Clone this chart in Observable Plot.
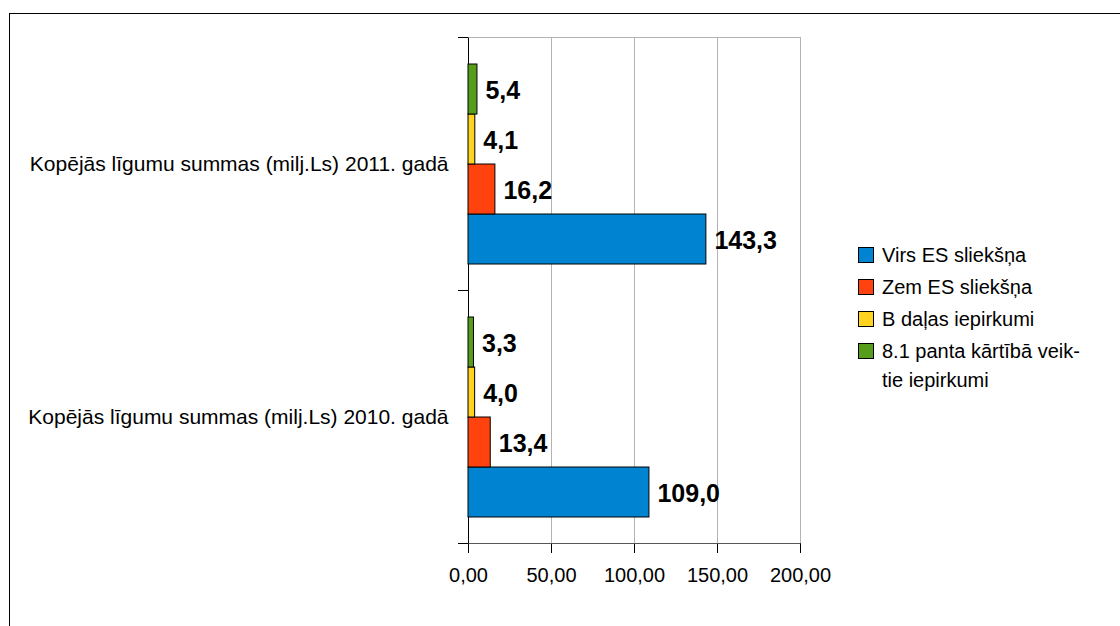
<!DOCTYPE html>
<html>
<head>
<meta charset="utf-8">
<script src="https://cdn.jsdelivr.net/npm/d3@7"></script>
<script src="https://cdn.jsdelivr.net/npm/@observablehq/plot@0.6"></script>
<style>
  body { margin: 0; background: #fff; }
  #wrap { position: relative; width: 1120px; height: 626px; overflow: hidden; font-family: "Liberation Sans", Arial, sans-serif; }
  #frame { position: absolute; left: 9px; top: 13px; width: 1200px; height: 700px; border-left: 1px solid #000; border-top: 1px solid #000; box-sizing: border-box; }
  #chart { position: absolute; left: 0; top: 0; }
  #legend { position: absolute; left: 0; top: 0; width: 1120px; height: 626px; font-size: 20px; color: #000; }
  .item { position: absolute; white-space: pre; line-height: 29px; }
  .sw { position: absolute; width: 14px; height: 14px; border: 1px solid #000; }
</style>
</head>
<body>
<div id="wrap">
  <div id="frame"></div>
  <div id="chart"></div>
  <div id="legend"></div>
</div>
<script>
// ---- data ----
const categories = [
  "Kopējās līgumu summas (milj.Ls) 2011. gadā",
  "Kopējās līgumu summas (milj.Ls) 2010. gadā"
];
const series = [
  "Virs ES sliekšņa",
  "Zem ES sliekšņa",
  "B daļas iepirkumi",
  "8.1 panta kārtībā veiktie iepirkumi"
];
const legendLabels = [
  "Virs ES sliekšņa",
  "Zem ES sliekšņa",
  "B daļas iepirkumi",
  "8.1 panta kārtībā veik-\ntie iepirkumi"
];
const values2011 = [143.3, 16.2, 4.1, 5.4];
const values2010 = [109.0, 13.4, 4.0, 3.3];
const colors = ["#0084d1", "#ff420e", "#ffd320", "#579d1c"];
const xTicks = [0, 50, 100, 150, 200];

const data = [];
series.forEach((s, i) => {
  data.push({category: categories[0], series: s, value: values2011[i]});
  data.push({category: categories[1], series: s, value: values2010[i]});
});

const comma = (v, n) => v.toFixed(n).replace(".", ",");

const chart = Plot.plot({
  width: 1120,
  height: 626,
  marginTop: 37,
  marginBottom: 83,
  marginLeft: 468,
  marginRight: 320,
  style: {fontFamily: "'Liberation Sans', Arial, sans-serif", fontSize: "20px", color: "#000", background: "transparent", overflow: "visible"},
  x: {domain: [0, 200], label: null},
  y: {domain: series.slice().reverse(), paddingInner: 0, paddingOuter: 0.5, axis: null},
  fy: {domain: categories, padding: 0, label: null},
  color: {domain: series, range: colors},
  marks: [
    Plot.gridX(xTicks, {stroke: "#b3b3b3", strokeOpacity: 1}),
    Plot.ruleX([0], {stroke: "#000"}),
    Plot.barX(data, {x: "value", y: "series", fy: "category", fill: "series", stroke: "#000", strokeWidth: 1}),
    Plot.text(data, {x: "value", y: "series", fy: "category", text: d => comma(d.value, 1),
      textAnchor: "start", dx: 8, dy: 1, fontSize: 25, fontWeight: "bold", fill: "#000"}),
    Plot.axisX({ticks: xTicks, tickSize: 10, tickPadding: 14, tickFormat: d => comma(d, 2), label: null, fontSize: 20, stroke: "#000"}),
    Plot.axisFy({anchor: "left", tickSize: 0, tickPadding: 20, label: null, fontSize: 21})
  ]
});

document.getElementById("chart").appendChild(chart);

// decorations via the plot's own scales
const xs = chart.scale("x");
const fys = chart.scale("fy");
const x0 = xs.apply(0), x200 = xs.apply(200);
const bounds = categories.map(c => fys.apply(c));
bounds.push(fys.apply(categories[categories.length - 1]) + fys.bandwidth);
const svg = d3.select(chart);
const g = svg.append("g");
g.append("line").attr("x1", x0).attr("x2", x200 + 0.5).attr("y1", bounds[0] + 0.5).attr("y2", bounds[0] + 0.5).attr("stroke", "#b3b3b3");
g.append("line").attr("x1", x0 - 10).attr("x2", x200 + 0.5).attr("y1", bounds[bounds.length - 1] + 0.5).attr("y2", bounds[bounds.length - 1] + 0.5).attr("stroke", "#555");
bounds.forEach(b => {
  g.append("line").attr("x1", x0 - 10).attr("x2", x0 + 0.5).attr("y1", b + 0.5).attr("y2", b + 0.5).attr("stroke", "#000");
});

// legend
const legend = document.getElementById("legend");
series.forEach((s, i) => {
  const top = 247 + 32 * i;
  const sw = document.createElement("div");
  sw.className = "sw";
  sw.style.left = "858px";
  sw.style.top = top + "px";
  sw.style.background = colors[i];
  legend.appendChild(sw);
  const t = document.createElement("div");
  t.className = "item";
  t.style.left = "882px";
  t.style.top = (top - 6) + "px";
  t.textContent = legendLabels[i];
  legend.appendChild(t);
});
</script>
</body>
</html>
